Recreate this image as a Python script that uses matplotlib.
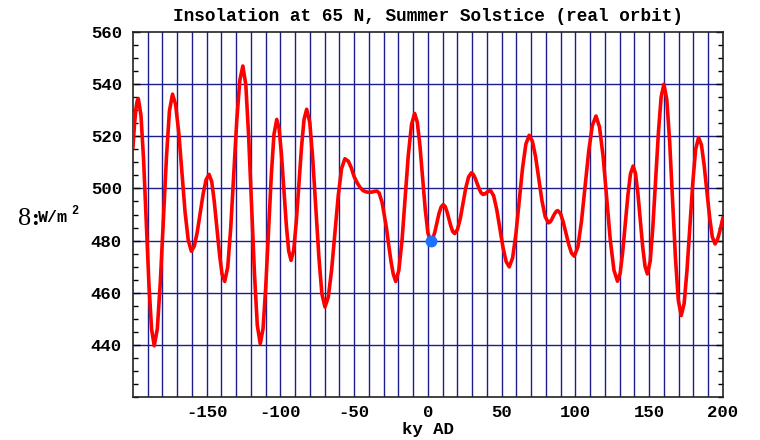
import matplotlib
matplotlib.use("Agg")
import matplotlib.pyplot as plt
from matplotlib.ticker import MultipleLocator

plt.rcParams["axes.unicode_minus"] = False

# insolation curve (ky AD, W/m^2)
ky = [-200, -199, -198, -197.2, -196.4,
      -194.6, -192.8, -191.0, -189.2, -187.4, -185.6,
      -183.5, -181.5, -179.4, -177.3, -175.3, -173.2,
      -171.1, -168.9, -166.8, -164.7, -162.5, -160.4,
      -158.4, -156.4, -154.4, -152.4, -150.4, -148.4,
      -146.6, -144.9, -143.1, -141.3, -139.6, -137.8,
      -135.75, -133.7, -131.65, -129.6, -127.55, -125.5,
      -123.5, -121.6, -119.6, -117.6, -115.7, -113.7,
      -111.8, -110.0, -108.1, -106.2, -104.4, -102.5,
      -100.9, -99.3, -97.65, -96.0, -94.4, -92.8,
      -91.0, -89.3, -87.5, -85.7, -84.0, -82.2,
      -80.1, -78.1, -76.0, -73.9, -71.9, -69.8,
      -67.55, -65.3, -63.05, -60.8, -58.55, -56.3,
      -54, -52, -50, -48, -46, -44, -42, -40, -38, -36, -34.5,
      -33, -31, -29.5, -28, -26.5, -25, -23.5, -21.8,
      -19.7, -17.5, -15.4, -13.3, -11.1, -9.0,
      -7.2, -5.4, -3.6, -1.8, 0.0, 1.8,
      3.2, 4.7, 6.1, 7.5, 9.0, 10.4,
      11.7, 13.0, 14.3, 15.6, 16.9, 18.2,
      20.1, 22.0, 23.85, 25.7, 27.6, 29.5,
      30.8, 32.1, 33.45, 34.8, 36.1, 37.4,
      38.7, 40.0, 41.3, 42.5,
      44.6, 46.7, 48.85, 51.0, 53.1, 55.2,
      57.45, 59.7, 61.95, 64.2, 66.45, 68.7,
      70.9, 73.1, 75.25, 77.4, 79.6, 81.8,
      82.85, 83.9, 84.95, 86.0, 87.05, 88.1,
      90.0, 91.8, 93.7, 95.6, 97.4, 99.3,
      101.75, 104.2, 106.65, 109.1, 111.55, 114.0,
      116.4, 118.9, 121.3, 123.7, 126.2, 128.6,
      130.4, 132.1, 133.9, 135.7, 137.4, 139.2,
      140.8, 142.4, 144.05, 145.7, 147.3, 148.9,
      150.8, 152.6, 154.5, 156.4, 158.2, 160.1,
      162.05, 164.0, 165.95, 167.9, 169.85, 171.8,
      173.8, 175.7, 177.7, 179.7, 181.6, 183.6,
      185.5, 187.3, 189.2, 191.1, 192.9, 194.8,
      196.5, 198.2, 200]
wm2 = [516.0, 524.5, 530.6, 533.5, 534.5,
       528.1, 510.8, 487.1, 463.3, 446.0, 439.6,
       446.1, 463.8, 487.9, 512.1, 529.7, 536.2,
       532.2, 521.1, 506.1, 491.0, 480.0, 475.9,
       477.9, 483.3, 490.7, 498.0, 503.4, 505.4,
       502.6, 495.1, 484.9, 474.6, 467.1, 464.3,
       469.8, 485.0, 505.7, 526.3, 541.5, 547.0,
       539.9, 520.4, 493.7, 467.1, 447.5, 440.4,
       446.2, 461.9, 483.5, 505.0, 520.7, 526.5,
       522.9, 513.0, 499.5, 485.9, 476.0, 472.4,
       476.3, 486.9, 501.4, 515.9, 526.5, 530.4,
       525.3, 511.4, 492.5, 473.5, 459.6, 454.5,
       458.3, 468.7, 483.0, 497.2, 507.6, 511.4,
       510.5, 508.0, 504.5, 502.2, 500.4, 499.2, 498.7, 498.5, 498.6, 498.9, 499.0,
       498.2, 494.5, 489.5, 484.5, 478.0, 472.0, 467.2, 464.3,
       468.6, 480.4, 496.6, 512.7, 524.5, 528.8,
       525.5, 516.5, 504.3, 492.0, 483.0, 479.7,
       480.6, 483.2, 486.8, 490.3, 492.9, 493.8,
       493.1, 491.0, 488.3, 485.5, 483.4, 482.7,
       484.3, 488.5, 494.4, 500.2, 504.4, 506.0,
       505.4, 503.9, 501.9, 499.8, 498.3, 497.7,
       497.9, 498.5, 499.0, 499.2,
       497.2, 491.9, 484.6, 477.2, 471.9, 469.9,
       473.3, 482.5, 495.2, 507.8, 517.0, 520.4,
       518.1, 512.0, 503.6, 495.2, 489.1, 486.8,
       487.1, 488.0, 489.2, 490.3, 491.2, 491.5,
       490.3, 487.1, 482.8, 478.4, 475.2, 474.0,
       477.6, 487.5, 500.9, 514.4, 524.2, 527.8,
       523.6, 512.0, 496.1, 480.3, 468.6, 464.4,
       467.4, 475.5, 486.5, 497.6, 505.6, 508.6,
       505.8, 498.3, 487.9, 477.6, 470.0, 467.2,
       472.1, 485.4, 503.6, 521.8, 535.1, 540.0,
       534.1, 517.8, 495.6, 473.4, 457.1, 451.2,
       455.8, 468.3, 485.4, 502.4, 515.0, 519.5,
       516.8, 509.3, 499.1, 488.9, 481.4, 478.7,
       480.5, 484.0, 488.5]

now_ky = [2]
now_wm2 = [480]

xticks = [-150, -100, -50, 0, 50, 100, 150, 200]
yticks = [440, 460, 480, 500, 520, 540, 560]

mono = "Liberation Mono"

fig = plt.figure(figsize=(7.6, 4.4), dpi=100)
ax = fig.add_axes([0.175, 0.098, 0.776, 0.829])

# grid
for g in range(-190, 200, 10):
    ax.axvline(g, color="#1c1c8c", lw=1.0, zorder=1)
for g in [440, 460, 480, 500, 520, 540]:
    ax.axhline(g, color="#1c1c8c", lw=1.0, zorder=1)

ax.plot(ky, wm2, color="#ff0000", lw=2.6, zorder=3, solid_joinstyle="round")
ax.plot(now_ky, now_wm2, "o", color="#1a72ff", ms=7.5, zorder=4)

ax.set_xlim(-200, 200)
ax.set_ylim(420, 560)
ax.set_xticks(xticks)
ax.set_yticks(yticks)
ax.yaxis.set_minor_locator(MultipleLocator(5))
ax.tick_params(axis="x", length=0, pad=6)
ax.tick_params(axis="y", which="both", direction="in", right=True, pad=8)
ax.tick_params(axis="y", which="major", length=5, width=1)
ax.tick_params(axis="y", which="minor", length=3.5, width=1)
for lab in ax.get_xticklabels() + ax.get_yticklabels():
    lab.set_fontfamily(mono)
    lab.set_fontweight("bold")
    lab.set_fontsize(12.5)

for s in ax.spines.values():
    s.set_color("#222222")
    s.set_linewidth(1.2)

fig.text(0.5632, 0.9636, "Insolation at 65 N, Summer Solstice (real orbit)",
         family=mono, weight="bold", size=12.8, ha="center", va="center")
fig.text(0.5632, 0.025, "ky AD", family=mono, weight="bold", size=12.5,
         ha="center", va="center")

# y label
fig.text(0.024, 0.489, "8", family="Liberation Serif", size=19, va="baseline")
fig.text(0.041, 0.489, ":", family="Liberation Serif", weight="bold", size=17,
         va="baseline")
fig.text(0.0495, 0.4955, "W/m", family=mono, weight="bold", size=12, va="baseline")
fig.text(0.094, 0.5136, "2", family=mono, weight="bold", size=8.5, va="baseline")

fig.savefig("out.png", dpi=100)
